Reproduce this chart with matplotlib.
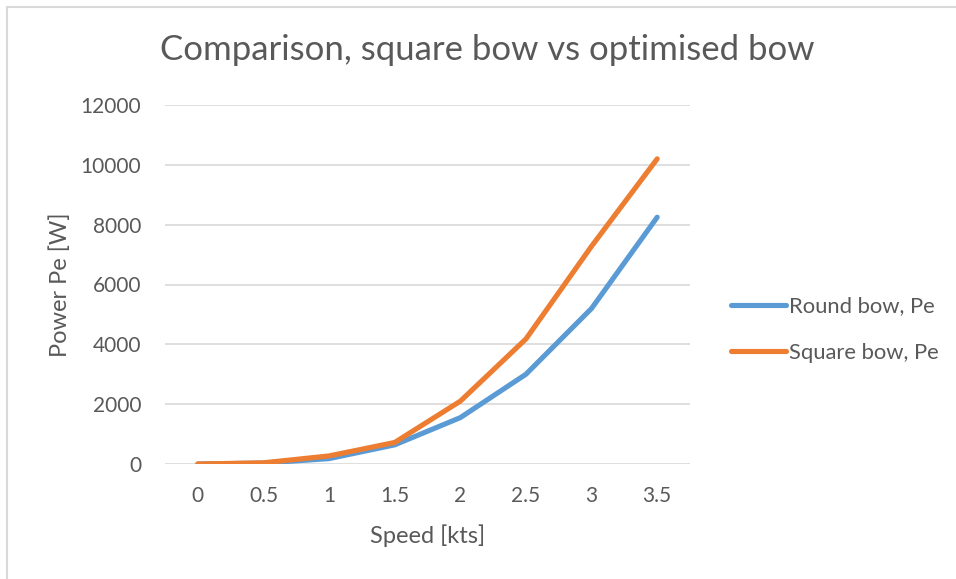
import matplotlib
matplotlib.use("Agg")
import matplotlib.pyplot as plt
from matplotlib.patches import Rectangle

speeds = ["0", "0.5", "1", "1.5", "2", "2.5", "3", "3.5"]
round_bow = [0, 30, 180, 640, 1550, 3000, 5200, 8250]
square_bow = [0, 40, 270, 720, 2100, 4180, 7280, 10200]

txt = "#595959"
grid = "#D9D9D9"
plt.rcParams['font.family'] = ['Lato', 'DejaVu Sans']

fig = plt.figure(figsize=(9.56, 5.79), dpi=100)
ax = fig.add_axes([165 / 956, 1 - 464 / 579, 525 / 956, 359 / 579])

x = list(range(len(speeds)))
ax.plot(x, round_bow, color="#5B9BD5", lw=3.7, solid_capstyle="round",
        solid_joinstyle="round", label="Round bow, Pe", zorder=3)
ax.plot(x, square_bow, color="#ED7D31", lw=3.7, solid_capstyle="round",
        solid_joinstyle="round", label="Square bow, Pe", zorder=4)

ax.set_xlim(-0.5, len(speeds) - 0.5)
ax.set_ylim(0, 12000)
ax.set_yticks(range(0, 12001, 2000))
ax.set_xticks(x)
ax.set_xticklabels(speeds)
ax.yaxis.grid(True, color=grid, lw=1.2)
ax.set_axisbelow(True)
for s in ax.spines.values():
    s.set_visible(False)
ax.tick_params(length=0, labelsize=15, colors=txt)
ax.tick_params(axis="y", pad=17)
ax.tick_params(axis="x", pad=16)

ax.set_xlabel("Speed [kts]", fontsize=17, color=txt, labelpad=13)
ax.set_ylabel("Power Pe [W]", fontsize=17, color=txt, labelpad=7)
fig.text(487 / 956, 1 - 50 / 579, "Comparison, square bow vs optimised bow",
         ha="center", va="center", fontsize=25, color=txt)

leg = ax.legend(loc="center left", bbox_to_anchor=(1.078, 0.375), frameon=False,
                fontsize=15.8, handlelength=2.5, handletextpad=0.14,
                labelspacing=1.2, borderpad=0, borderaxespad=0)
for t in leg.get_texts():
    t.set_color(txt)

# chart frame (only top/left visible in the crop)
fig.patches.append(Rectangle((7 / 956, -0.1), 1.2, 1 - 7 / 579 + 0.1,
                             transform=fig.transFigure, fill=False,
                             edgecolor="#D9D9D9", lw=1.5))

fig.savefig("out.png", dpi=100)
